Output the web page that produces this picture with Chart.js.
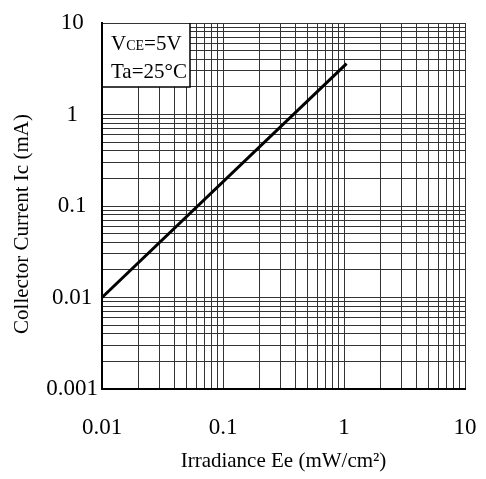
<!DOCTYPE html>
<html>
<head>
<meta charset="utf-8">
<script src="https://cdn.jsdelivr.net/npm/chart.js@4.4.0/dist/chart.umd.min.js"></script>
<style>
  html, body { margin: 0; padding: 0; background: #fff; }
  #wrap { width: 486px; height: 479px; position: relative; }
</style>
</head>
<body>
<div id="wrap"><canvas id="ieChart"></canvas></div>
<script>
// Irradiance (mW/cm2) vs collector current (mA)
const irradiance = [0.01, 1.05];
const collectorCurrent = [0.01, 3.6];

const xTicks = [0.01, 0.1, 1, 10];
const yTicks = [0.001, 0.01, 0.1, 1, 10];

// gridlines at 1..9 of each decade
function decadeGrid(min, max) {
    const out = [];
    for (let d = min; d < max * 0.999; d *= 10) {
        for (let m = 1; m < 10; m++) out.push(+(d * m).toPrecision(3));
    }
    out.push(max);
    return out;
}

function isMajor(v, list) {
    return list.some(t => Math.abs(t - v) / t < 1e-6);
}

// legend box in the upper-left corner + y axis title
const noteBox = {
    id: 'noteBox',
    afterDatasetsDraw(chart) {
        const { ctx, chartArea } = chart;
        const x0 = chartArea.left, y0 = chartArea.top;
        ctx.save();
        ctx.fillStyle = '#fff';
        ctx.fillRect(x0 + 1, y0 + 1, 87, 63);
        ctx.strokeStyle = '#000';
        ctx.lineWidth = 1.5;
        ctx.beginPath();
        ctx.moveTo(x0 + 88, y0);
        ctx.lineTo(x0 + 88, y0 + 64);
        ctx.lineTo(x0, y0 + 64);
        ctx.stroke();
        ctx.fillStyle = '#000';
        ctx.textBaseline = 'alphabetic';
        ctx.font = '21px "Liberation Serif"';
        let x = x0 + 9;
        ctx.fillText('V', x, y0 + 27);
        x += ctx.measureText('V').width;
        ctx.font = '14px "Liberation Serif"';
        ctx.fillText('CE', x, y0 + 27);
        x += ctx.measureText('CE').width;
        ctx.font = '21px "Liberation Serif"';
        ctx.fillText('=5V', x, y0 + 27);
        ctx.fillText('Ta=25\u00B0C', x0 + 9, y0 + 55);

        // y title
        ctx.translate(22, 224);
        ctx.rotate(-Math.PI / 2);
        ctx.textAlign = 'center';
        ctx.textBaseline = 'middle';
        ctx.font = '21px "Liberation Serif"';
        ctx.fillText('Collector Current Ic (mA)', 0, 0);
        ctx.restore();
    }
};

const ctx = document.getElementById('ieChart').getContext('2d');
new Chart(ctx, {
    type: 'line',
    data: {
        datasets: [{
            data: irradiance.map((x, i) => ({ x: x, y: collectorCurrent[i] })),
            borderColor: '#000',
            borderWidth: 3,
            pointRadius: 0,
            fill: false,
            tension: 0
        }]
    },
    options: {
        responsive: true,
        maintainAspectRatio: false,
        animation: false,
        layout: { padding: { top: 23, right: 21, bottom: 5, left: 0 } },
        plugins: { legend: { display: false }, tooltip: { enabled: false } },
        scales: {
            x: {
                type: 'logarithmic',
                min: 0.01,
                max: 10,
                afterBuildTicks: s => { s.ticks = decadeGrid(0.01, 10).map(v => ({ value: v })); },
                afterFit: s => { s.height = 85; s.paddingLeft = 0; s.paddingRight = 0; },
                border: { color: '#000', width: 2 },
                grid: {
                    color: '#333',
                    lineWidth: 1,
                    drawTicks: false
                },
                ticks: {
                    autoSkip: false,
                    maxRotation: 0,
                    padding: 25,
                    color: '#000',
                    font: { family: 'Liberation Serif', size: 23 },
                    callback: v => isMajor(v, xTicks) ? String(v) : ''
                },
                title: {
                    display: true,
                    text: 'Irradiance Ee (mW/cm\u00B2)',
                    color: '#000',
                    font: { family: 'Liberation Serif', size: 21 },
                    padding: 0
                }
            },
            y: {
                type: 'logarithmic',
                min: 0.001,
                max: 10,
                afterBuildTicks: s => { s.ticks = decadeGrid(0.001, 10).map(v => ({ value: v })); },
                afterFit: s => { s.width = 102; s.paddingTop = 0; s.paddingBottom = 0; },
                border: { color: '#000', width: 2 },
                grid: {
                    color: '#333',
                    lineWidth: 1,
                    drawTicks: false
                },
                ticks: {
                    autoSkip: false,
                    padding: 4,
                    crossAlign: 'center',
                    color: '#000',
                    font: { family: 'Liberation Serif', size: 23 },
                    callback: v => isMajor(v, yTicks) ? String(v) : ''
                }
            }
        }
    },
    plugins: [noteBox]
});
</script>
</body>
</html>
